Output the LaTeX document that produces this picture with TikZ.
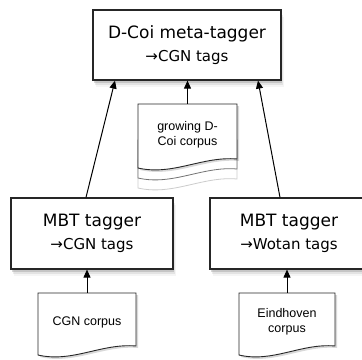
\documentclass[tikz,border=0pt]{standalone}
\usepackage{fontspec}
\newfontfamily\boxfont{DejaVu Sans}
\newfontfamily\docfont{Liberation Sans}
\usetikzlibrary{arrows.meta,shadows}
\tikzset{
  box/.style={draw=black!85, line width=1.2bp, fill=white, inner sep=0pt, align=center,
    font=\boxfont\fontsize{17bp}{23bp}\selectfont,
    drop shadow={shadow xshift=3bp,shadow yshift=-7bp,opacity=.08},
    drop shadow={shadow xshift=2bp,shadow yshift=-5bp,opacity=.15},
    drop shadow={shadow xshift=1bp,shadow yshift=-3bp,opacity=.3}},
  doc/.style={inner sep=0pt, align=center, font=\docfont\fontsize{12.5bp}{15.5bp}\selectfont},
  arr/.style={draw=black, line width=1bp, -{Triangle[length=8bp,width=7bp]}},
  docline/.style={draw=black!85, line width=0.9bp, fill=white},
  docshadow/.style={fill=black, opacity=.15, draw=none},
}
% L T R B : document outline with wavy bottom
\newcommand{\docshape}[5][docline]{%
  \path[#1] (#2,#3) -- (#4,#3) -- (#4,#5-9)
    .. controls ({#2+0.65*(#4-#2)},#5-12) and ({#2+0.35*(#4-#2)},#5+8) .. (#2,#5) -- cycle;}
\newcommand{\subline}[1]{{\fontsize{15bp}{23bp}\selectfont →#1}}
\begin{document}
\begin{tikzpicture}[x=1bp,y=-1bp]
  \useasboundingbox (0,0) rectangle (362,360);
  \clip (0,0) rectangle (362,360);
  \fill[white] (0,0) rectangle (362,360);

  % boxes
  \node[box, minimum width=188bp, minimum height=70bp] (top) at (187,45)
    {D-Coi meta-tagger\\\subline{CGN tags}};
  \node[box, minimum width=162bp, minimum height=71bp] (lbox) at (92,233.5)
    {MBT tagger\\\subline{CGN tags}};
  \node[box, minimum width=158bp, minimum height=71bp] (rbox) at (289,233.5)
    {MBT tagger\\\subline{Wotan tags}};

  % growing corpus (stacked document)
  \begin{scope}[yshift=-20bp]
    \docshape[draw=black!20, line width=0.8bp, fill=white]{138}{140}{237}{168}
  \end{scope}
  \begin{scope}[yshift=-10bp]
    \docshape[draw=black!55, line width=0.8bp, fill=white]{138}{130}{237}{168}
  \end{scope}
  \begin{scope}[xshift=2bp,yshift=-2bp]
    \docshape[docshadow]{138}{104}{237}{168}
  \end{scope}
  \docshape{138}{104}{237}{168}
  \node[doc, minimum width=99bp, minimum height=62bp] (grow) at (187.5,135)
    {growing D-\\Coi corpus};

  % CGN corpus
  \begin{scope}[xshift=2bp,yshift=-2bp]
    \docshape[docshadow]{38}{293}{136}{355}
  \end{scope}
  \docshape{38}{293}{136}{355}
  \node[doc, minimum width=98bp, minimum height=58bp] (cgn) at (87,322) {CGN corpus};

  % Eindhoven corpus
  \begin{scope}[xshift=2bp,yshift=-2bp]
    \docshape[docshadow]{239}{293}{335}{355}
  \end{scope}
  \docshape{239}{293}{335}{355}
  \node[doc, minimum width=96bp, minimum height=58bp] (eind) at (287,322) {Eindhoven\\corpus};

  % connectors
  \draw[arr] (grow.north) -- (grow.north |- top.south);
  \draw[arr] ([xshift=-6bp]lbox.north) -- ([xshift=-72bp]top.south);
  \draw[arr] ([xshift=-9bp]rbox.north) -- ([xshift=71bp]top.south);
  \draw[arr] (cgn.north) -- (cgn.north |- lbox.south);
  \draw[arr] (eind.north) -- (eind.north |- rbox.south);
\end{tikzpicture}
\end{document}
